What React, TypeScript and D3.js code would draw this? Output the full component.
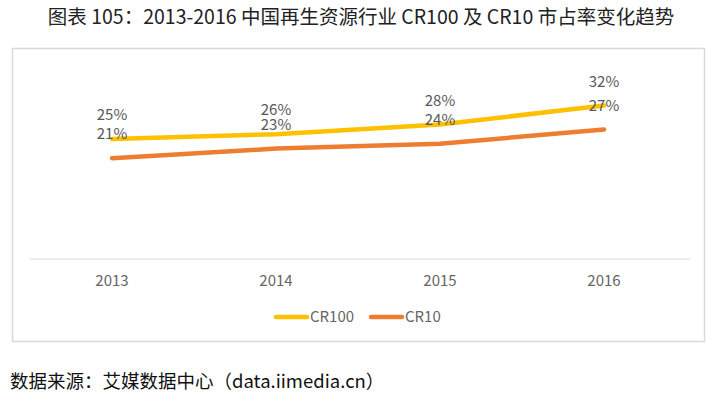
import React, {useEffect, useRef} from 'react';
import * as d3 from 'd3';

const years = ['2013', '2014', '2015', '2016'];
const cr100 = [25, 26, 28, 32];
const cr10 = [21, 23, 24, 27];
const seriesNames = ['CR100', 'CR10'];
const seriesColors = ['#FFC000', '#ED7D31'];

const App: React.FC = () => {
    const svgRef = useRef<SVGSVGElement | null>(null);

    useEffect(() => {
        const svg = d3.select(svgRef.current);
        svg.selectAll('*').remove();

        const W = 722, H = 402;
        const cjk = '"Noto Sans CJK SC", "Noto Sans", sans-serif';

        svg.append('rect').attr('width', W).attr('height', H).attr('fill', '#fff');

        svg.append('text')
            .attr('x', 361).attr('y', 24)
            .attr('text-anchor', 'middle')
            .attr('font-family', cjk)
            .attr('font-size', 19.5)
            .attr('font-weight', 400)
            .attr('fill', '#222')
            .text('图表 105：2013-2016 中国再生资源行业 CR100 及 CR10 市占率变化趋势');

        // chart frame
        svg.append('rect')
            .attr('x', 12.5).attr('y', 48.5)
            .attr('width', 692).attr('height', 293)
            .attr('fill', 'none')
            .attr('stroke', '#d9d9d9')
            .attr('stroke-width', 1.5);

        const x = d3.scaleBand().domain(years).range([30, 686]);
        const y = d3.scaleLinear().domain([0, 40]).range([259, 67]);
        const cx = (d: string) => x(d)! + x.bandwidth() / 2;

        svg.append('line')
            .attr('x1', 30).attr('x2', 690)
            .attr('y1', y(0)).attr('y2', y(0))
            .attr('stroke', '#d9d9d9').attr('stroke-width', 1.2);

        svg.append('g').selectAll('text')
            .data(years).enter().append('text')
            .attr('x', d => cx(d)).attr('y', 286)
            .attr('text-anchor', 'middle')
            .attr('font-family', cjk)
            .attr('font-size', 15)
            .attr('fill', '#666')
            .text(d => d);

        const line = d3.line<number>()
            .x((d, i) => cx(years[i]))
            .y(d => y(d));

        [cr100, cr10].forEach((vals, k) => {
            svg.append('path')
                .datum(vals)
                .attr('d', line)
                .attr('fill', 'none')
                .attr('stroke', seriesColors[k])
                .attr('stroke-width', 4.5)
                .attr('stroke-linecap', 'round')
                .attr('stroke-linejoin', 'round');
        });

        [cr100, cr10].forEach((vals) => {
            svg.append('g').selectAll('text')
                .data(vals).enter().append('text')
                .attr('x', (d, i) => cx(years[i]))
                .attr('y', d => y(d) - 24)
                .attr('dy', '0.35em')
                .attr('text-anchor', 'middle')
                .attr('font-family', cjk)
                .attr('font-size', 15)
                .attr('fill', '#595959')
                .text(d => d + '%');
        });

        // legend
        const legendX = [276, 371];
        seriesNames.forEach((name, k) => {
            const g = svg.append('g').attr('transform', `translate(${legendX[k]},317)`);
            g.append('line')
                .attr('x1', 0).attr('x2', 31)
                .attr('stroke', seriesColors[k])
                .attr('stroke-width', 4.5)
                .attr('stroke-linecap', 'round');
            g.append('text')
                .attr('x', 34).attr('dy', '0.35em')
                .attr('font-family', cjk)
                .attr('font-size', 15)
                .attr('fill', '#666')
                .text(name);
        });

        svg.append('text')
            .attr('x', 10).attr('y', 388)
            .attr('font-family', cjk)
            .attr('font-size', 18.5)
            .attr('fill', '#111')
            .text('数据来源：艾媒数据中心（data.iimedia.cn）');
    }, []);

    return (
        <svg ref={svgRef} width={722} height={402}
             style={{position: 'absolute', left: 0, top: 0, display: 'block'}}/>
    );
};

export default App;
